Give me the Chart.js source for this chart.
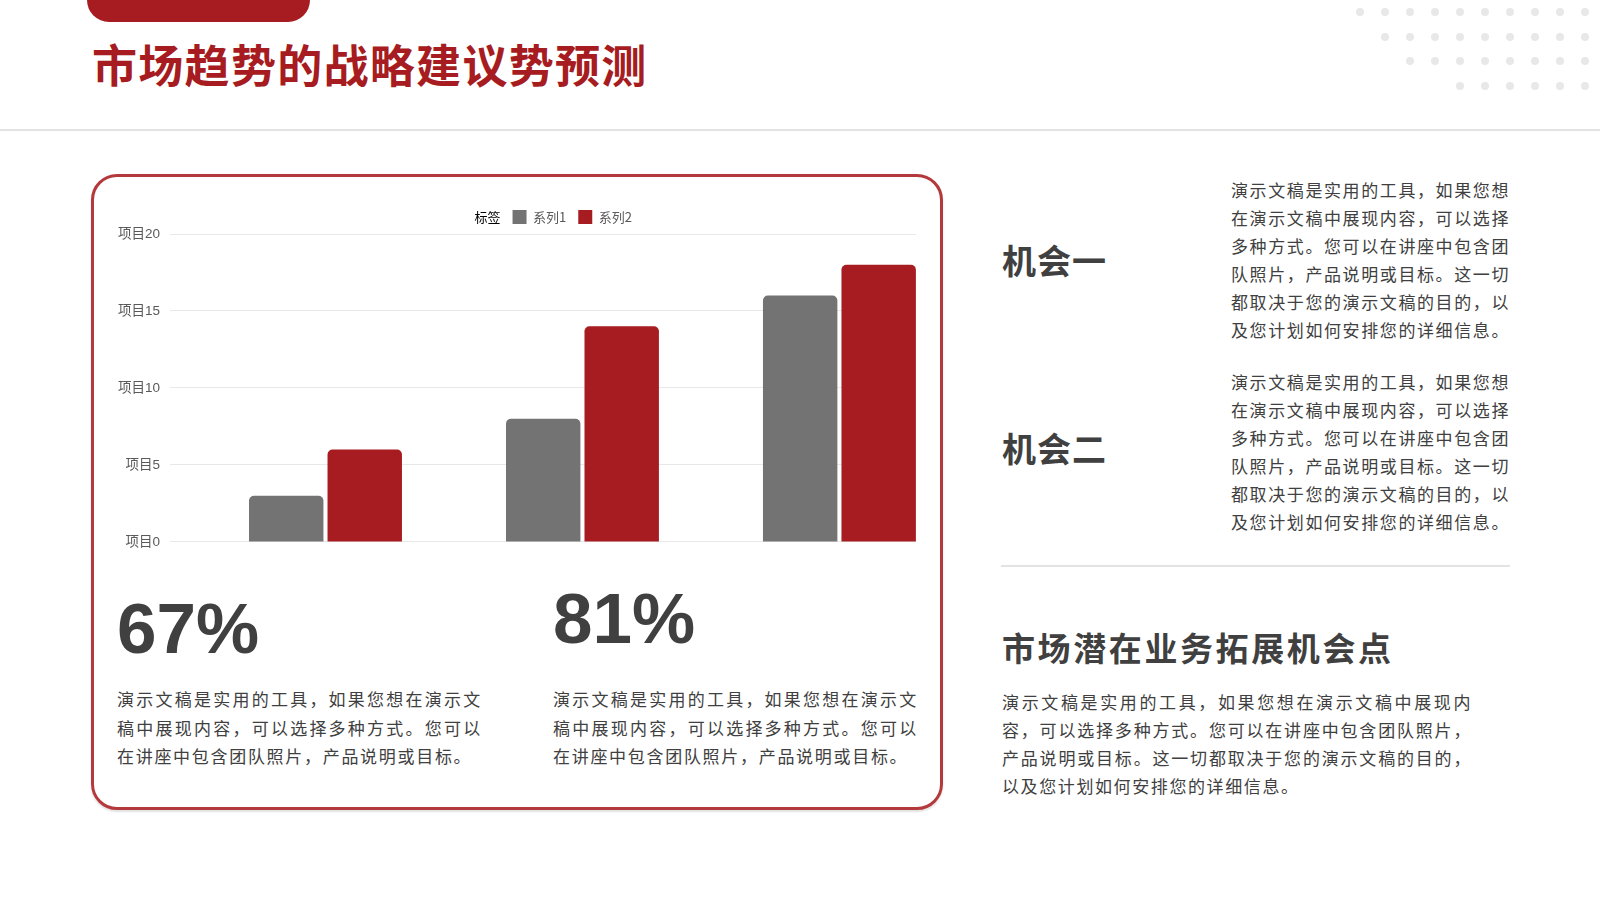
<!DOCTYPE html>
<html>
<head>
<meta charset="utf-8">
<script src="https://cdn.jsdelivr.net/npm/chart.js@4.4.0/dist/chart.umd.min.js"></script>
<style>
  html, body { margin: 0; padding: 0; background: #fff; }
  body { width: 1600px; height: 900px; position: relative; overflow: hidden; font-family: "Noto Sans CJK SC", "Liberation Sans", sans-serif; color: #404040; }
  .abs { position: absolute; }
  .pill { left: 87px; top: 0; width: 223px; height: 22px; background: #a61c21; border-radius: 0 0 22px 22px; }
  .title { left: 92px; top: 36px; font-size: 45px; line-height: 56px; font-weight: 700; color: #a61c21; letter-spacing: 1.3px; white-space: nowrap; }
  .hline { left: 0; top: 129px; width: 1600px; height: 2px; background: #e3e3e3; }
  .dot { width: 8px; height: 8px; border-radius: 50%; background: #e8e8e8; }
  .card { left: 91px; top: 174px; width: 852px; height: 636px; box-sizing: border-box; border: 3px solid #b4393c; border-radius: 26px; box-shadow: 0 2px 2px rgba(0,0,0,0.12); }
  .chartbox { left: 108px; top: 198px; width: 822px; height: 362px; }
  .big { font-family: "Liberation Sans", Arial, sans-serif; font-weight: 700; font-size: 71px; line-height: 71px; color: #404040; white-space: nowrap; }
  .para { width: 365px; font-size: 17px; line-height: 28.5px; letter-spacing: 1.7px; color: #404040; }
  .rpara { font-size: 17px; line-height: 28.1px; letter-spacing: 1.6px; color: #404040; white-space: nowrap; }
  .head { font-size: 34px; line-height: 40px; font-weight: 700; color: #404040; letter-spacing: 1px; white-space: nowrap; }
  .sep { left: 1001px; top: 565px; width: 509px; height: 2px; background: #e3e3e3; }
  .head2 { left: 1002px; top: 625px; font-size: 33px; line-height: 44px; font-weight: 700; color: #404040; letter-spacing: 2.6px; white-space: nowrap; }
  .bpara { left: 1002px; top: 688px; width: 470px; font-size: 17px; line-height: 28px; letter-spacing: 1.6px; color: #404040; }
  .para div, .bpara div { white-space: nowrap; }
  .para .j, .bpara .j { text-align: justify; text-align-last: justify; }
</style>
</head>
<body>
<div class="abs pill"></div>
<div class="abs title">市场趋势的战略建议势预测</div>
<div class="abs hline"></div>
<div id="dots"></div>

<div class="abs card"></div>
<div class="abs chartbox"><canvas id="barChart"></canvas></div>

<div class="abs big" style="left:117px; top:593px;">67%</div>
<div class="abs big" style="left:553px; top:583px;">81%</div>
<div class="abs para" style="left:117px; top:685px;">
  <div class="j">演示文稿是实用的工具，如果您想在演示文</div>
  <div class="j">稿中展现内容，可以选择多种方式。您可以</div>
  <div>在讲座中包含团队照片，产品说明或目标。</div>
</div>
<div class="abs para" style="left:553px; top:685px;">
  <div class="j">演示文稿是实用的工具，如果您想在演示文</div>
  <div class="j">稿中展现内容，可以选择多种方式。您可以</div>
  <div>在讲座中包含团队照片，产品说明或目标。</div>
</div>

<div class="abs head" style="left:1002px; top:240px;">机会一</div>
<div class="abs rpara" style="left:1231px; top:176px;">演示文稿是实用的工具，如果您想<br>在演示文稿中展现内容，可以选择<br>多种方式。您可以在讲座中包含团<br>队照片，产品说明或目标。这一切<br>都取决于您的演示文稿的目的，以<br>及您计划如何安排您的详细信息。</div>
<div class="abs head" style="left:1002px; top:428px;">机会二</div>
<div class="abs rpara" style="left:1231px; top:368px;">演示文稿是实用的工具，如果您想<br>在演示文稿中展现内容，可以选择<br>多种方式。您可以在讲座中包含团<br>队照片，产品说明或目标。这一切<br>都取决于您的演示文稿的目的，以<br>及您计划如何安排您的详细信息。</div>
<div class="abs sep"></div>
<div class="abs head2">市场潜在业务拓展机会点</div>
<div class="abs bpara">
  <div class="j">演示文稿是实用的工具，如果您想在演示文稿中展现内</div>
  <div class="j">容，可以选择多种方式。您可以在讲座中包含团队照片，</div>
  <div class="j">产品说明或目标。这一切都取决于您的演示文稿的目的，</div>
  <div>以及您计划如何安排您的详细信息。</div>
</div>

<script>
// chart data
var categories = ["类别1", "类别2", "类别3"];
var series1 = [3, 8, 16];
var series2 = [6, 14, 18];
var seriesNames = ["系列1", "系列2"];
var legendTitle = "标签";
var tickPrefix = "项目";
var yMin = 0;
var yMax = 20;
var yStep = 5;

document.addEventListener("DOMContentLoaded", function () {

  // decorative dot grid, top right
  var dotRows = [
    { y: 12, from: 0 },
    { y: 37, from: 1 },
    { y: 61, from: 2 },
    { y: 86, from: 4 },
  ];
  var dotsHtml = "";
  dotRows.forEach(function (row) {
    for (var k = row.from; k < 10; k++) {
      dotsHtml += '<div class="abs dot" style="left:' + (1356 + k * 25) + 'px; top:' + (row.y - 4) + 'px;"></div>';
    }
  });
  document.getElementById("dots").innerHTML = dotsHtml;

  var toPoints = function (arr) {
    return arr.map(function (v, i) { return { x: i, y: v }; });
  };

  var barData = {
    datasets: [
      {
        label: seriesNames[0],
        backgroundColor: "#737373",
        borderWidth: 0,
        borderRadius: { topLeft: 5, topRight: 5 },
        borderSkipped: "bottom",
        data: toPoints(series1),
      },
      {
        label: seriesNames[1],
        backgroundColor: "#a61c21",
        borderWidth: 0,
        borderRadius: { topLeft: 5, topRight: 5 },
        borderSkipped: "bottom",
        data: toPoints(series2),
      },
    ],
  };

  // centre the legend over the plot area instead of the whole canvas
  var legendOnPlot = {
    id: "legendOnPlot",
    beforeDraw: function (chart) {
      if (chart.legend && chart.chartArea) {
        chart.legend.left = chart.chartArea.left;
        chart.legend.right = chart.chartArea.right;
      }
    },
  };

  var ctx = document.getElementById("barChart").getContext("2d");

  var barChart = new Chart(ctx, {
    type: "bar",
    data: barData,
    plugins: [legendOnPlot],
    options: {
      responsive: true,
      maintainAspectRatio: false,
      animation: false,
      layout: { padding: { left: 0, right: 14, top: 0, bottom: 0 } },
      datasets: {
        bar: { categoryPercentage: 0.611, barPercentage: 0.948 },
      },
      plugins: {
        tooltip: { enabled: false },
        legend: {
          position: "top",
          align: "center",
          labels: {
            boxWidth: 14,
            boxHeight: 14,
            padding: 12,
            color: "#595959",
            font: { family: "'Noto Sans CJK SC', 'Liberation Sans'", size: 13 },
            generateLabels: function (chart) {
              var items = Chart.defaults.plugins.legend.labels.generateLabels(chart);
              items.unshift({
                text: legendTitle,
                fillStyle: "rgba(0,0,0,0)",
                strokeStyle: "rgba(0,0,0,0)",
                lineWidth: 0,
                hidden: false,
                datasetIndex: -1,
              });
              return items;
            },
          },
        },
      },
      scales: {
        x: {
          type: "linear",
          display: false,
          offset: false,
          grid: { offset: false },
          min: -0.605,
          max: 2.298,
          afterBuildTicks: function (axis) {
            axis.ticks = categories.map(function (c, i) { return { value: i }; });
          },
        },
        y: {
          min: yMin,
          max: yMax,
          border: { display: false },
          grid: { color: "#e8e8e8", lineWidth: 1, drawTicks: false },
          ticks: {
            stepSize: yStep,
            padding: 10,
            color: "#595959",
            font: { family: "'Liberation Sans', 'Noto Sans CJK SC'", size: 13.5 },
            callback: function (value) { return tickPrefix + value; },
          },
        },
      },
    },
  });
});
</script>
</body>
</html>
